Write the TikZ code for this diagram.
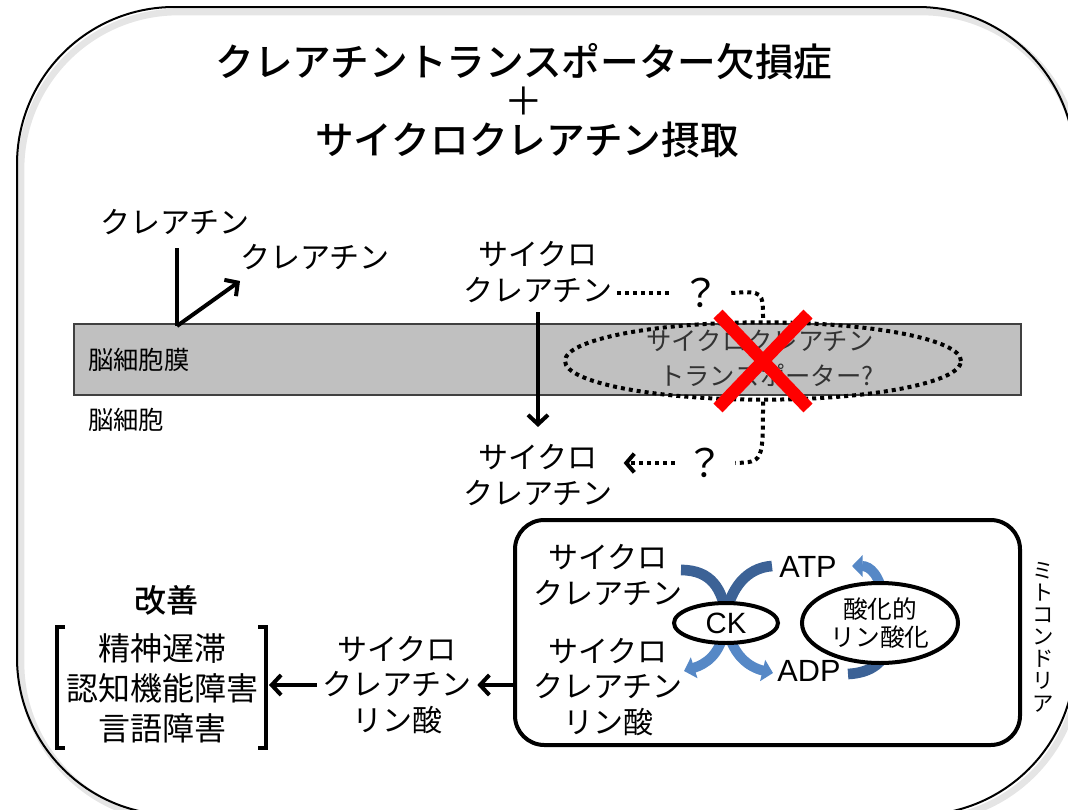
\documentclass[tikz,border=0pt]{standalone}
\usepackage{fontspec}
\setmainfont{Noto Sans CJK JP}
\newfontfamily\arialfont{Liberation Sans}
\IfFontExistsTF{Noto Sans CJK JP Medium}{\newfontfamily\titlefont{Noto Sans CJK JP Medium}}{\newfontfamily\titlefont{Noto Sans CJK JP}[FakeBold=1.5]}
\usetikzlibrary{arrows.meta,shapes.geometric,calc}
\definecolor{memgray}{RGB}{192,192,192}
\definecolor{bluedark}{RGB}{60,98,150}
\definecolor{bluelight}{RGB}{86,136,198}
\definecolor{xred}{RGB}{255,0,0}
\begin{document}
\begin{tikzpicture}[x=0.75pt,y=-0.75pt,
  titletxt/.style={font=\titlefont\fontsize{29}{30}\selectfont, inner sep=0},
  txt/.style={font=\fontsize{22.5}{26.5}\selectfont, align=center, inner sep=0},
  lbl/.style={font=\fontsize{19}{20}\selectfont, inner sep=0},
  blkarrow/.style={line width=3pt, -{Straight Barb[length=7pt,width=15pt]}},
  dotline/.style={line width=3pt, dash pattern=on 3pt off 3pt},
  band/.style={line width=8pt},
  bandarrow/.style={line width=7.5pt, -{Triangle[length=8pt,width=16pt]}},
  oval/.style={ellipse, draw, line width=3pt, fill=white, inner sep=0}
]
\useasboundingbox (0,0) rectangle (1068,810);
% outer frame with light shadow
\draw[black!10, line width=5pt, rounded corners=118pt] (21,12) rectangle (1079,820);
\draw[black, line width=1.5pt, rounded corners=118pt] (17,7) rectangle (1075,815);

% title
\node[titletxt] (t1) at (524,62) {クレアチントランスポーター欠損症};
\node[font=\fontsize{29}{30}\selectfont, inner sep=0] (plus) at (524,101) {＋};
\node[titletxt] (t2) at (527,140) {サイクロクレアチン摂取};

% membrane
\draw[fill=memgray, draw=black!75, line width=1.1pt] (74,324) coordinate (memnw) rectangle (1021,395) coordinate (memse);
\node[lbl, anchor=west] (memlbl) at (88,360) {脳細胞膜};
\node[lbl, anchor=west] (cell) at (88,420) {脳細胞};

% creatine
\node[txt] (cr1) at (175,222) {クレアチン};
\node[txt] (cr2) at (315,257) {クレアチン};
\coordinate (bend) at (177,326);
\coordinate (tip1) at (240,281);
\draw[line width=3pt] ([yshift=-10pt]cr1.south -| bend) -- (bend);
\draw[blkarrow] (bend) -- (tip1);

% cyclocreatine through membrane
\node[txt] (sc1) at (538,272) {サイクロ\\クレアチン};
\node[txt] (sc2) at (538,475) {サイクロ\\クレアチン};
\draw[blkarrow] ([yshift=-7pt]sc1.south) -- ([yshift=13pt]sc2.north);

% transporter
\node[ellipse, draw, dotline, minimum width=297pt, minimum height=58pt, inner sep=0] (trans) at (763,361) {};
\node[font=\fontsize{19}{26}\selectfont, align=center, text=black!80, inner sep=0] (translbl) at (760,358) {サイクロクレアチン\\\hspace*{0.5em}トランスポーター?};
\node[font=\fontsize{29}{29}\selectfont, inner sep=0] (q1) at (701,293) {？};
\node[font=\fontsize{29}{29}\selectfont, inner sep=0] (q2) at (705,463) {？};
\draw[dotline] ([xshift=3pt]sc1.east |- q1.west) -- ([xshift=-8pt]q1.west);
\draw[dotline] ([xshift=8pt]q1.east) .. controls (763,291) .. (trans.north);
\draw[dotline] (trans.south) .. controls (763,462) .. ([xshift=8pt]q2.east);
\draw[dotline, -{Straight Barb[length=6pt,width=14pt,line width=3pt]}] ([xshift=-8pt]q2.west) -- ([xshift=8pt]sc2.east |- q2.west);

% red cross
\draw[xred, line width=9.5pt] ($(trans.center)+(-45,-47)$) -- ($(trans.center)+(45,47)$);
\draw[xred, line width=9.5pt] ($(trans.center)+(45,-47)$) -- ($(trans.center)+(-45,47)$);

% mitochondria
\node[draw, line width=3pt, rounded corners=22pt, minimum width=378.75pt, minimum height=168.75pt, inner sep=0] (mito) at (767.5,632.5) {};
\node[font=\fontsize{16}{16.6}\selectfont, align=center, inner sep=0] (mitolbl) at (1043,637) {ミ\\ト\\コ\\ン\\ド\\リ\\ア};

\node[txt] (msc1) at (608,575) {サイクロ\\クレアチン};
\node[txt] (msc2) at (608,687) {サイクロ\\クレアチン\\リン酸};
\node[font=\arialfont\fontsize{23}{23}\selectfont, inner sep=0] (atp) at (808,567) {ATP};
\node[font=\arialfont\fontsize{23}{23}\selectfont, inner sep=0] (adp) at (809,671) {ADP};

% blue reaction bands
\coordinate (ckc) at (726,623);
\draw[band, bluedark] (681,570) .. controls (712,570) and (722,590) .. (726,614);
\draw[band, bluedark] (772,566) .. controls (745,568) and (731,590) .. (726,614);
\draw[bandarrow, bluelight] (724,632) .. controls (719,655) and (706,664) .. (684,671);
\draw[bandarrow, bluelight] (728,632) .. controls (734,655) and (748,667) .. (773,673);
\draw[bandarrow, bluelight] (884,600) .. controls (880,575) and (870,566) .. (852,566);
\draw[band, bluedark] (848,674) .. controls (868,673) and (882,665) .. (888,648);

\node[oval, minimum width=78pt, minimum height=30pt, font=\arialfont\fontsize{22}{22}\selectfont] (ck) at (ckc) {CK};
\node[oval, minimum width=117pt, minimum height=60pt, font=\fontsize{18.5}{21}\selectfont, align=center] (ox) at (880,623) {酸化的\\リン酸化};

% phosphocreatine out
\node[txt] (rsc) at (397,685) {サイクロ\\クレアチン\\リン酸};
\draw[blkarrow] (mito.west |- rsc.east) -- ([xshift=4pt]rsc.east);

% improvement
\node[font=\titlefont\fontsize{24}{24}\selectfont, inner sep=0] (kaizen) at (166,600) {改善};
\node[font=\fontsize{24}{30}\selectfont, align=center, inner sep=0] (imp) at (162,688) {精神遅滞\\認知機能障害\\言語障害};
\draw[line width=2.4pt] (65,627) -- (57,627) -- (57,748) -- (65,748);
\draw[line width=2.4pt] (258,627) -- (266,627) -- (266,748) coordinate (rb) -- (258,748);
\coordinate (rbr) at (269,685);
\draw[blkarrow] ([xshift=-4pt]rsc.west) -- (rbr);
\end{tikzpicture}
\end{document}
